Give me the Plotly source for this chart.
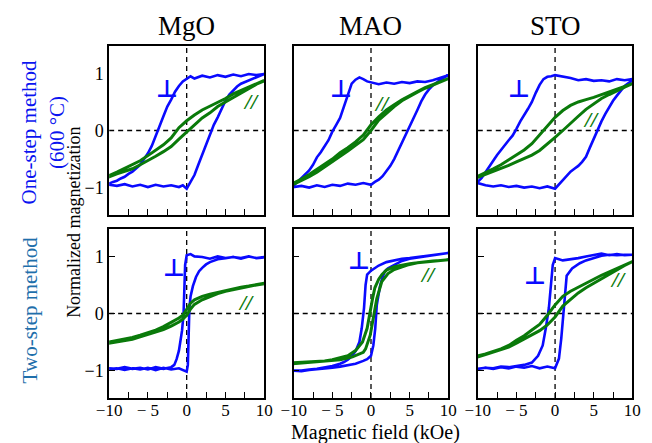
import plotly.graph_objects as go

# ---------------------------------------------------------------------------
# Hysteresis loops: field H (kOe) and normalized magnetization M.
# Each loop is stored as the descending branch (+10 -> -10 kOe) followed by
# the ascending branch (-10 -> +10 kOe).
# "perp" = field perpendicular to the film, "par" = field in the film plane.
# ---------------------------------------------------------------------------

# --- One-step method (600 °C) ---------------------------------------------
mgo1_perp_H = [10, 9, 8, 7, 6, 5, 4, 3, 2, 1, 0.5, 0, -0.5, -1, -1.5, -2, -2.5, -3, -3.5, -4, -4.5, -5, -5.5, -6, -6.5, -7, -7.5, -8, -8.5, -9, -9.5, -10,
               -10, -9, -8, -7, -6, -5, -4, -3, -2, -1, -0.5, 0, 0.5, 1, 1.5, 2, 2.5, 3, 3.5, 4, 4.5, 5, 5.5, 6, 6.5, 7, 7.5, 8, 9, 10]
mgo1_perp_M = [0.99, 0.97, 0.99, 0.95, 0.98, 0.94, 0.97, 0.93, 0.96, 0.91, 0.95, 0.90, 0.86, 0.78, 0.68, 0.54, 0.42, 0.25, 0.08, -0.10, -0.27, -0.40, -0.50, -0.60, -0.66, -0.72, -0.76, -0.81, -0.84, -0.88, -0.90, -0.93,
               -0.95, -0.97, -0.94, -0.98, -0.95, -0.99, -0.95, -0.98, -0.96, -0.99, -0.96, -1.02, -0.90, -0.78, -0.60, -0.42, -0.24, -0.07, 0.10, 0.23, 0.38, 0.52, 0.63, 0.71, 0.77, 0.82, 0.85, 0.88, 0.93, 0.99]
mgo1_par_H = [10, 9, 8, 7, 6, 5, 4, 3, 2, 1, 0, -1, -2, -3, -4, -5, -6, -7, -8, -9, -10,
              -10, -9, -8, -7, -6, -5, -4, -3, -2, -1, 0, 1, 2, 3, 4, 5, 6, 7, 8, 9, 10]
mgo1_par_M = [0.88, 0.82, 0.76, 0.70, 0.64, 0.56, 0.49, 0.43, 0.36, 0.27, 0.17, 0.05, -0.13, -0.25, -0.35, -0.44, -0.53, -0.60, -0.67, -0.73, -0.79,
              -0.81, -0.76, -0.72, -0.67, -0.60, -0.53, -0.45, -0.37, -0.28, -0.15, -0.03, 0.10, 0.22, 0.31, 0.42, 0.50, 0.58, 0.66, 0.74, 0.81, 0.87]

mao1_perp_H = [10, 9, 8, 7, 6, 5, 4, 3, 2, 1, 0, -0.5, -1, -1.5, -2, -2.5, -3, -3.5, -4, -4.5, -5, -5.5, -6, -6.5, -7, -7.5, -8, -8.5, -9, -9.5, -10,
               -10, -9, -8, -7, -6, -5, -4, -3, -2, -1, 0, 0.5, 1, 1.5, 2, 2.5, 3, 3.5, 4, 4.5, 5, 5.5, 6, 6.5, 7, 7.5, 8, 8.5, 9, 10]
mao1_perp_M = [0.97, 0.92, 0.88, 0.85, 0.86, 0.83, 0.85, 0.82, 0.84, 0.81, 0.84, 0.86, 0.90, 0.93, 0.89, 0.82, 0.62, 0.42, 0.22, 0.10, -0.02, -0.17, -0.28, -0.38, -0.47, -0.60, -0.70, -0.77, -0.84, -0.90, -0.96,
               -0.99, -0.97, -1.00, -0.96, -0.99, -0.95, -0.97, -0.93, -0.95, -0.92, -0.95, -0.90, -0.86, -0.80, -0.72, -0.62, -0.50, -0.36, -0.20, -0.06, 0.08, 0.21, 0.36, 0.51, 0.63, 0.72, 0.79, 0.84, 0.89, 0.97]
mao1_par_H = [10, 9, 8, 7, 6, 5, 4, 3, 2, 1, 0, -1, -2, -3, -4, -5, -6, -7, -8, -9, -10,
              -10, -9, -8, -7, -6, -5, -4, -3, -2, -1, 0, 1, 2, 3, 4, 5, 6, 7, 8, 9, 10]
mao1_par_M = [0.91, 0.86, 0.80, 0.75, 0.68, 0.61, 0.54, 0.45, 0.36, 0.24, 0.10, -0.08, -0.20, -0.30, -0.39, -0.50, -0.59, -0.69, -0.77, -0.85, -0.92,
              -0.94, -0.88, -0.81, -0.73, -0.64, -0.55, -0.45, -0.36, -0.26, -0.16, 0.00, 0.18, 0.30, 0.42, 0.52, 0.60, 0.67, 0.74, 0.80, 0.86, 0.91]

sto1_perp_H = [10, 9, 8, 7, 6, 5, 4, 3, 2, 1, 0, -0.5, -1, -1.5, -2, -2.5, -3, -3.5, -4, -4.5, -5, -5.5, -6, -6.5, -7, -7.5, -8, -8.5, -9, -9.5, -10,
               -10, -9, -8, -7, -6, -5, -4, -3, -2, -1, 0, 0.5, 1, 1.5, 2, 2.5, 3, 3.5, 4, 4.5, 5, 5.5, 6, 6.5, 7, 7.5, 8, 8.5, 9, 9.5, 10]
sto1_perp_M = [0.90, 0.88, 0.90, 0.86, 0.88, 0.87, 0.90, 0.88, 0.92, 0.95, 0.97, 0.95, 0.94, 0.90, 0.80, 0.66, 0.50, 0.38, 0.28, 0.16, 0.03, -0.09, -0.17, -0.25, -0.34, -0.43, -0.53, -0.64, -0.73, -0.83, -0.90,
               -0.92, -0.96, -0.98, -0.96, -0.99, -0.97, -1.00, -0.98, -1.01, -0.98, -1.02, -0.94, -0.86, -0.78, -0.72, -0.67, -0.62, -0.55, -0.46, -0.30, -0.14, 0.03, 0.16, 0.29, 0.41, 0.52, 0.61, 0.70, 0.78, 0.83, 0.88]
sto1_par_H = [10, 9, 8, 7, 6, 5, 4, 3, 2, 1, 0, -1, -2, -3, -4, -5, -6, -7, -8, -9, -10,
              -10, -9, -8, -7, -6, -5, -4, -3, -2, -1, 0, 1, 2, 3, 4, 5, 6, 7, 8, 9, 10]
sto1_par_M = [0.82, 0.77, 0.73, 0.68, 0.63, 0.58, 0.54, 0.50, 0.44, 0.35, 0.23, 0.07, -0.09, -0.23, -0.34, -0.43, -0.52, -0.60, -0.67, -0.74, -0.80,
              -0.82, -0.77, -0.72, -0.67, -0.61, -0.55, -0.49, -0.43, -0.35, -0.24, -0.12, 0.00, 0.13, 0.25, 0.37, 0.47, 0.56, 0.63, 0.70, 0.76, 0.82]

# --- Two-step method --------------------------------------------------------
mgo2_perp_H = [10, 9, 8, 7, 6, 5, 4, 3, 2, 1, 0.5, 0, -0.2, -0.3, -0.4, -0.6, -0.8, -1, -1.3, -1.6, -2, -3, -4, -5, -6, -7, -8, -9, -10,
               -10, -9, -8, -7, -6, -5, -4, -3, -2, -1, -0.5, 0, 0.15, 0.25, 0.35, 0.5, 0.8, 1.2, 1.6, 2, 2.5, 3, 3.5, 4, 5, 6, 7, 8, 9, 10]
mgo2_perp_M = [0.98, 0.97, 1.00, 0.96, 0.99, 0.97, 1.00, 0.96, 0.99, 1.00, 1.04, 1.02, 0.85, 0.30, 0.00, -0.30, -0.50, -0.65, -0.80, -0.90, -0.94, -0.97, -0.94, -0.98, -0.95, -0.97, -0.94, -0.97, -0.96,
               -0.98, -0.96, -0.99, -0.96, -0.98, -0.95, -0.99, -0.95, -0.98, -0.96, -0.99, -1.02, -0.90, -0.30, 0.10, 0.30, 0.48, 0.64, 0.74, 0.80, 0.86, 0.90, 0.93, 0.95, 0.97, 0.99, 0.97, 1.00, 0.97, 0.99]
mgo2_par_H = [10, 9, 8, 7, 6, 5, 4, 3, 2, 1, 0.5, 0, -0.5, -1, -2, -3, -4, -5, -6, -7, -8, -9, -10,
              -10, -9, -8, -7, -6, -5, -4, -3, -2, -1, -0.5, 0, 0.5, 1, 2, 3, 4, 5, 6, 7, 8, 9, 10]
mgo2_par_M = [0.53, 0.50, 0.48, 0.46, 0.43, 0.41, 0.38, 0.34, 0.30, 0.24, 0.18, 0.08, -0.03, -0.08, -0.16, -0.23, -0.29, -0.34, -0.38, -0.42, -0.45, -0.48, -0.50,
              -0.52, -0.50, -0.47, -0.45, -0.41, -0.37, -0.33, -0.28, -0.22, -0.15, -0.10, -0.03, 0.08, 0.16, 0.24, 0.30, 0.35, 0.39, 0.42, 0.45, 0.48, 0.50, 0.52]

mao2_perp_H = [10, 9, 8, 7, 6, 5, 4, 3, 2, 1, 0.5, 0, -0.5, -0.7, -0.9, -1.2, -1.5, -2, -2.5, -3, -3.5, -4, -5, -6, -7, -8, -9, -10,
               -10, -9, -8, -7, -6, -5, -4, -3, -2, -1, -0.5, 0, 0.3, 0.55, 0.75, 1.0, 1.2, 1.5, 1.8, 2.2, 3, 4, 5, 6, 7, 8, 9, 10]
mao2_perp_M = [1.06, 1.04, 1.02, 1.00, 0.99, 0.97, 0.96, 0.93, 0.90, 0.84, 0.79, 0.75, 0.68, 0.50, 0.10, -0.26, -0.50, -0.66, -0.75, -0.81, -0.85, -0.88, -0.92, -0.95, -0.97, -0.98, -1.00, -1.00,
               -1.00, -1.01, -0.99, -0.98, -0.97, -0.95, -0.93, -0.91, -0.88, -0.83, -0.80, -0.74, -0.56, -0.26, 0.15, 0.35, 0.50, 0.64, 0.74, 0.79, 0.85, 0.92, 0.96, 0.98, 1.00, 1.02, 1.04, 1.06]
mao2_par_H = [10, 9, 8, 7, 6, 5, 4, 3, 2, 1.4, 1, 0.5, 0.2, -0.15, -0.5, -1.1, -2, -3, -4, -5, -6, -7, -8, -9, -10,
              -10, -9, -8, -7, -6, -5, -4, -3, -2.4, -1, -0.7, -0.1, 0.3, 0.75, 1.4, 2.2, 3, 4.7, 6, 7, 8, 9, 10]
mao2_par_M = [0.94, 0.93, 0.92, 0.91, 0.89, 0.87, 0.85, 0.82, 0.76, 0.68, 0.60, 0.45, 0.26, -0.03, -0.26, -0.50, -0.65, -0.74, -0.78, -0.81, -0.83, -0.84, -0.85, -0.86, -0.86,
              -0.88, -0.87, -0.86, -0.85, -0.84, -0.83, -0.81, -0.78, -0.76, -0.68, -0.62, -0.38, -0.09, 0.26, 0.56, 0.70, 0.77, 0.85, 0.89, 0.91, 0.92, 0.93, 0.94]

sto2_perp_H = [10, 9, 8, 7, 6, 5, 4, 3, 2, 1, 0.5, 0, -0.3, -0.55, -0.8, -1.2, -1.6, -2.2, -3, -4, -5, -6, -7, -8, -9, -10,
               -10, -9, -8, -7, -6, -5, -4, -3, -2, -1, 0, 0.5, 0.8, 1.05, 1.25, 1.5, 2.2, 3.2, 4, 5, 6, 7, 8, 9, 10]
sto2_perp_M = [1.03, 1.02, 1.04, 1.02, 1.05, 1.03, 1.00, 0.97, 0.95, 0.93, 0.95, 0.97, 0.85, 0.50, 0.10, -0.26, -0.56, -0.74, -0.86, -0.90, -0.92, -0.94, -0.93, -0.96, -0.95, -0.97,
               -0.97, -0.95, -0.97, -0.94, -0.96, -0.93, -0.95, -0.92, -0.96, -0.93, -0.96, -0.79, -0.44, -0.03, 0.32, 0.66, 0.79, 0.88, 0.93, 0.97, 1.01, 1.03, 1.02, 1.03, 1.03]
sto2_par_H = [10, 9, 8, 7, 6, 5, 4, 3, 2, 1, 0, -1, -2, -3, -4, -5, -6, -7, -8, -9, -10,
              -10, -9, -8, -7, -6, -5, -4, -3, -2, -1, 0, 1, 2, 3, 4, 5, 6, 7, 8, 9, 10]
sto2_par_M = [0.91, 0.85, 0.79, 0.74, 0.67, 0.60, 0.53, 0.46, 0.39, 0.30, 0.15, -0.03, -0.19, -0.29, -0.39, -0.47, -0.56, -0.62, -0.67, -0.71, -0.74,
              -0.76, -0.72, -0.68, -0.64, -0.59, -0.52, -0.45, -0.38, -0.30, -0.20, -0.06, 0.13, 0.25, 0.36, 0.45, 0.53, 0.60, 0.68, 0.76, 0.84, 0.91]

substrates = ["MgO", "MAO", "STO"]
x_tick_vals = [-10, -7.5, -5, -2.5, 0, 2.5, 5, 7.5, 10]
x_tick_text = ["\u221210", "", "\u2212 5", "", "0", "", "5", "", "10"]
y_tick_vals = [-1, 0, 1]
y_tick_text = ["\u22121", "0", "1"]

# (perp H, perp M, par H, par M, perp-label position, par-label position)
panels = [
    (mgo1_perp_H, mgo1_perp_M, mgo1_par_H, mgo1_par_M, (-2.6, 0.72), (8.3, 0.50)),
    (mao1_perp_H, mao1_perp_M, mao1_par_H, mao1_par_M, (-3.9, 0.72), (1.4, 0.48)),
    (sto1_perp_H, sto1_perp_M, sto1_par_H, sto1_par_M, (-4.7, 0.72), (4.7, 0.20)),
    (mgo2_perp_H, mgo2_perp_M, mgo2_par_H, mgo2_par_M, (-1.6, 0.80), (7.7, 0.20)),
    (mao2_perp_H, mao2_perp_M, mao2_par_H, mao2_par_M, (-1.6, 0.92), (7.4, 0.68)),
    (sto2_perp_H, sto2_perp_M, sto2_par_H, sto2_par_M, (-2.6, 0.65), (8.2, 0.59)),
]

BLUE = "#0a0aff"
GREEN = "#0a7a0a"
SERIF = "Liberation Serif"

W, H = 652, 443
col_px = [(99.5, 260.0), (290.5, 450.5), (481.0, 641.0)]
row_px = [(46.0, 215.0), (229.0, 398.0)]

fig = go.Figure()
layout = {}
shapes = []
annotations = []

for i, (ph, pm, gh, gm, perp_pos, par_pos) in enumerate(panels):
    r, c = divmod(i, 3)
    n = i + 1
    xa = "x" if n == 1 else f"x{n}"
    ya = "y" if n == 1 else f"y{n}"

    fig.add_trace(go.Scatter(x=ph, y=pm, mode="lines", xaxis=xa, yaxis=ya,
                             line=dict(color=BLUE, width=2.6), showlegend=False))
    fig.add_trace(go.Scatter(x=gh, y=gm, mode="lines", xaxis=xa, yaxis=ya,
                             line=dict(color=GREEN, width=3), showlegend=False))

    x0, x1 = col_px[c]
    y0, y1 = row_px[r]
    xdom = [x0 / W, x1 / W]
    ydom = [1 - y1 / H, 1 - y0 / H]

    layout["xaxis" if n == 1 else f"xaxis{n}"] = dict(
        domain=xdom, anchor=ya, range=[-10, 10],
        showline=True, linecolor="black", linewidth=1.6, mirror=True,
        ticks="inside", ticklen=6, tickwidth=1.3, tickcolor="black",
        tickvals=x_tick_vals, ticktext=x_tick_text, ticklabelstandoff=-4,
        showticklabels=(r == 1), showgrid=False, zeroline=False,
        tickfont=dict(family=SERIF, size=17, color="black"),
    )
    layout["yaxis" if n == 1 else f"yaxis{n}"] = dict(
        domain=ydom, anchor=xa, range=[-1.48, 1.48],
        showline=True, linecolor="black", linewidth=1.6, mirror=True,
        ticks="inside" if r == 1 else "", ticklen=6, tickwidth=1.3, tickcolor="black",
        tickvals=y_tick_vals, ticktext=y_tick_text,
        showticklabels=(c == 0), showgrid=False, zeroline=False,
        tickfont=dict(family=SERIF, size=18, color="black"),
    )

    # dashed zero lines
    shapes.append(dict(type="line", xref=xa, yref=ya, x0=-10, x1=10, y0=0, y1=0,
                       line=dict(color="black", width=1.3, dash="5px,4px"), layer="below"))
    shapes.append(dict(type="line", xref=xa, yref=f"{ya} domain", x0=0, x1=0, y0=0, y1=1,
                       line=dict(color="black", width=1.3, dash="5px,4px"), layer="below"))

    annotations.append(dict(xref=xa, yref=ya, x=perp_pos[0], y=perp_pos[1], text="<b>\u22a5</b>",
                            showarrow=False, font=dict(family="DejaVu Sans", size=24, color=BLUE)))
    annotations.append(dict(xref=xa, yref=ya, x=par_pos[0], y=par_pos[1], text="<b><i>//</i></b>",
                            showarrow=False, font=dict(family=SERIF, size=22, color=GREEN)))

# column titles
for c, name in enumerate(substrates):
    x0, x1 = col_px[c]
    annotations.append(dict(xref="paper", yref="paper", x=(x0 + x1) / 2 / W, y=1 - 26 / H,
                            text=name, showarrow=False, xanchor="center", yanchor="middle",
                            font=dict(family=SERIF, size=27, color="black")))

# axis titles
annotations.append(dict(xref="paper", yref="paper", x=375 / W, y=1 - 432 / H,
                        text="Magnetic field (kOe)", showarrow=False, yanchor="middle",
                        font=dict(family=SERIF, size=20, color="black")))
annotations.append(dict(xref="paper", yref="paper", x=63 / W, y=1 - 222 / H,
                        text="Normalized magnetization", showarrow=False, textangle=-90,
                        xanchor="center", yanchor="middle",
                        font=dict(family=SERIF, size=18, color="black")))

# row labels
annotations.append(dict(xref="paper", yref="paper", x=30.5 / W, y=1 - 132 / H,
                        text="One-step method<br>(600 \u00b0C)", showarrow=False, textangle=-90,
                        xanchor="center", yanchor="middle",
                        font=dict(family=SERIF, size=21, color="#0a14f0")))
annotations.append(dict(xref="paper", yref="paper", x=18 / W, y=1 - 310 / H,
                        text="Two-step method", showarrow=False, textangle=-90,
                        xanchor="center", yanchor="middle",
                        font=dict(family=SERIF, size=21, color="#1f6fab")))

fig.update_layout(
    width=W, height=H, margin=dict(l=0, r=0, t=0, b=0),
    paper_bgcolor="white", plot_bgcolor="white",
    shapes=shapes, annotations=annotations, **layout,
)

fig.write_html("out.html")
